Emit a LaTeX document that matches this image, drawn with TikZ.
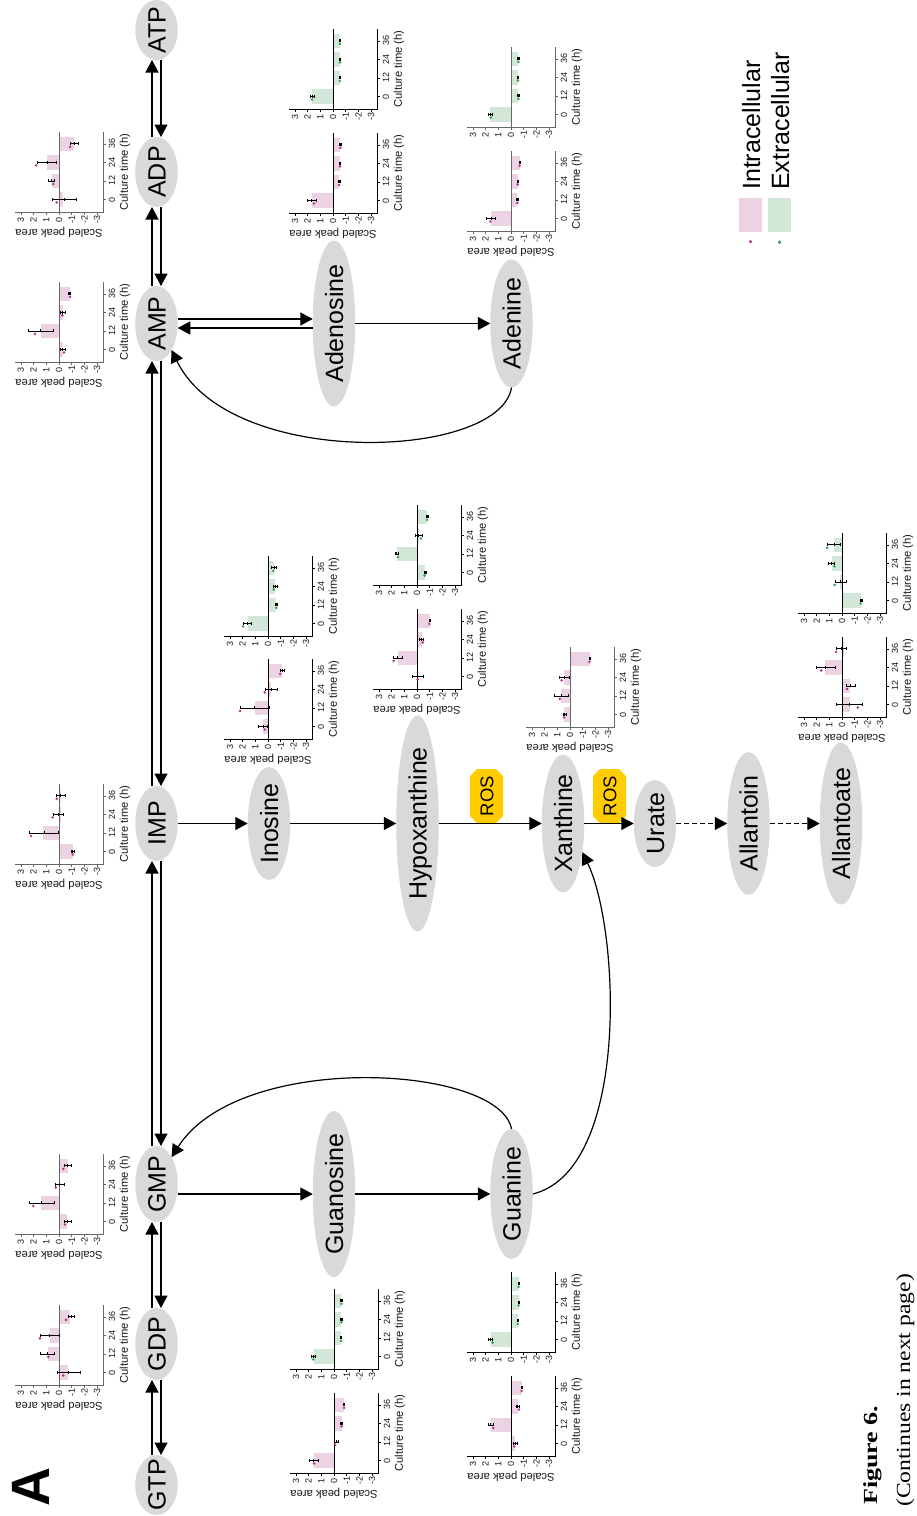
\documentclass[tikz,border=0pt]{standalone}
\usepackage{fontspec}
\setmainfont{Liberation Sans}
\newfontfamily\capfont[FakeStretch=1.18]{Liberation Serif}
\newfontfamily\capbold[FakeStretch=1.3]{Liberation Serif Bold}
\usetikzlibrary{arrows.meta,positioning,calc,shapes.geometric}
\definecolor{NodeGray}{HTML}{D9D9D9}
\definecolor{RosAmber}{HTML}{FFCC00}
\definecolor{BarPink}{HTML}{EBD3E3}
\definecolor{BarGreen}{HTML}{D3E7D8}
\definecolor{DotPink}{HTML}{B5308A}
\definecolor{DotGreen}{HTML}{2E9E4F}
\definecolor{AxisGray}{HTML}{666666}
\newcommand{\ptfont}[1]{\fontsize{#1}{#1}\selectfont}
\tikzset{
  metab/.style n args={2}{ellipse,fill=NodeGray,inner sep=0pt,outer sep=0pt,
                    minimum width=42.5pt,minimum height=#1,
                    label={[mlabel]center:#2}},
  mlabel/.style={rotate=90,inner sep=0pt,font=\ptfont{25},text height=18pt,text depth=0pt},
  ros/.style={rotate=90,inner sep=0pt,font=\ptfont{18.5},text height=13.5pt,text depth=0pt},
  arr/.style={-{Triangle[length=12.5pt,width=13pt]},line width=1.4pt,black},
  darr/.style={arr,dash pattern=on 5pt off 3pt},
  curv/.style={-{Triangle[length=12.5pt,width=13pt]},line width=1.2pt,black},
  ticklab/.style={rotate=90,inner sep=0pt,font=\ptfont{9},text=black!90},
  axtitle/.style={inner sep=0pt,font=\ptfont{11.2},text=black!90},
  vtext/.style={rotate=90,anchor=base west,inner sep=0pt},
}
% one small bar chart; X is the zero line, Y the value axis
\newcommand{\peakchart}[6][black]{%
  \begin{scope}[shift={(#3,#4)},name prefix=#2-]
    \foreach \bv/\elo/\ehi/\dv [count=\i from 0] in {#6}{
      \pgfmathsetmacro\ty{-12.5-18.55*\i}
      \fill[#5] (0,\ty-7.3) rectangle ({-12.7*\bv},\ty+7.3);
    }
    \draw[#1,line width=0.8pt] (0,-80) -- (0,0);
    \draw[#1,line width=0.8pt] (-44,0) -- (44,0) -- (44,-80);
    \foreach \val in {3,2,1,0,-1,-2,-3}{
      \draw[#1,line width=0.6pt] ({-12.7*\val},0) -- ({-12.7*\val},2.5);
      \node[ticklab] (v\val) at ({-12.7*\val},7.5) {\val};
    }
    \foreach \tm [count=\i from 0] in {0,12,24,36}{
      \pgfmathsetmacro\ty{-12.5-18.55*\i}
      \draw[#1,line width=0.6pt] (44,\ty) -- (46.5,\ty);
      \node[ticklab] (t\tm) at (53,\ty) {\tm};
    }
    \node[axtitle,rotate=90] (xlab) at (66,-40) {Culture time (h)};
  \end{scope}
}
\newcommand{\peakdata}[4]{%
  \begin{scope}[shift={(#1,#2)}]
    \foreach \bv/\elo/\ehi/\dv [count=\i from 0] in {#4}{
      \pgfmathsetmacro\ty{-12.5-18.55*\i}
      \draw[black,line width=0.9pt] ({-12.7*\elo},\ty) -- ({-12.7*\ehi},\ty);
      \draw[black,line width=0.7pt] ({-12.7*\elo},\ty-1.5) -- ({-12.7*\elo},\ty+1.5);
      \draw[black,line width=0.7pt] ({-12.7*\ehi},\ty-1.5) -- ({-12.7*\ehi},\ty+1.5);
      \draw[black,line width=0.9pt] ({-6.35*(\elo+\ehi)},\ty-1.5) -- ({-6.35*(\elo+\ehi)},\ty+1.5);
      \fill[#3] ({-12.7*\dv},\ty+3) circle (1.4);
    }
  \end{scope}
}
\newcommand{\intrachart}[5][black]{%
  \peakchart[#1]{#2}{#3}{#4}{BarPink}{#5}
  \peakdata{#3}{#4}{DotPink}{#5}
  \node[axtitle,rotate=180] (#2-ylab) at ({#3},{#4+20}) {Scaled peak area};
}
\newcommand{\extrachart}[5][black]{%
  \peakchart[#1]{#2}{#3}{#4}{BarGreen}{#5}
  \peakdata{#3}{#4}{DotGreen}{#5}
}
\newcommand{\rosbadge}[3]{%
  \fill[RosAmber,shift={(#2,#3)}] (-9.5,-27) -- (9.5,-27) -- (16.5,-20) -- (16.5,20)
    -- (9.5,27) -- (-9.5,27) -- (-16.5,20) -- (-16.5,-20) -- cycle;
  \node[ros] (#1) at (#2,#3) {ROS};
}
\begin{document}
\begin{tikzpicture}[x=1pt,y=-1pt]
  \useasboundingbox (0,0) rectangle (917,1516);

  % nucleotides, left column
  \node[metab={75pt}{IMP}] (imp) at (156.5,823.5) {};
  \node[metab={75pt}{AMP},above=425pt of imp] (amp) {};
  \node[metab={70pt}{ADP},above=79pt of amp]  (adp) {};
  \node[metab={60pt}{ATP},above=77pt of adp]  (atp) {};
  \node[metab={76pt}{GMP},below=285pt of imp] (gmp) {};
  \node[metab={72pt}{GDP},below=86pt of gmp]  (gdp) {};
  \node[metab={60pt}{GTP},below=75pt of gdp]  (gtp) {};

  % degradation row
  \node[metab={113pt}{Inosine},right=70pt of imp]       (ino) {};
  \node[metab={216pt}{Hypoxanthine},right=106pt of ino] (hyp) {};
  \node[metab={138pt}{Xanthine},right=103pt of hyp]     (xan) {};
  \node[metab={87pt}{Urate},right=49.5pt of xan]        (ura) {};
  \node[metab={143pt}{Allantoin},right=51pt of ura]     (ali) {};
  \node[metab={162pt}{Allantoate},right=50pt of ali]    (alo) {};
  \node[metab={166pt}{Adenosine},right=135pt of amp]    (ado) {};
  \node[metab={128pt}{Adenine},right=135pt of ado]      (ade) {};
  \node[metab={166pt}{Guanosine},right=135pt of gmp,yshift=-10pt] (guo) {};
  \node[metab={130pt}{Guanine},right=135pt of guo]      (gun) {};

  \rosbadge{rosa}{486.5}{796}
  \rosbadge{rosb}{609.5}{796}

  \draw[arr] ([xshift=-4.5pt]adp.north) -- ([xshift=-4.5pt]atp.south);
  \draw[arr] ([xshift=4.5pt]atp.south)  -- ([xshift=4.5pt]adp.north);
  \draw[arr] ([xshift=-4.5pt]amp.north) -- ([xshift=-4.5pt]adp.south);
  \draw[arr] ([xshift=4.5pt]adp.south)  -- ([xshift=4.5pt]amp.north);
  \draw[arr] ([xshift=-4.5pt]imp.north) -- ([xshift=-4.5pt]amp.south);
  \draw[arr] ([xshift=4.5pt]amp.south)  -- ([xshift=4.5pt]imp.north);
  \draw[arr] ([xshift=-4.5pt]gmp.north) -- ([xshift=-4.5pt]imp.south);
  \draw[arr] ([xshift=4.5pt]imp.south)  -- ([xshift=4.5pt]gmp.north);
  \draw[arr] ([xshift=-4.5pt]gdp.north) -- ([xshift=-4.5pt]gmp.south);
  \draw[arr] ([xshift=4.5pt]gmp.south)  -- ([xshift=4.5pt]gdp.north);
  \draw[arr] ([xshift=-4.5pt]gtp.north) -- ([xshift=-4.5pt]gdp.south);
  \draw[arr] ([xshift=4.5pt]gdp.south)  -- ([xshift=4.5pt]gtp.north);

  \draw[arr] (imp) -- (ino);
  \draw[arr] (ino) -- (hyp);
  \draw[arr] (hyp) -- (xan);
  \draw[arr] (xan) -- (ura);
  \draw[darr] (ura) -- (ali);
  \draw[darr] (ali) -- (alo);
  \draw[arr] ([yshift=4.5pt]amp.east) -- ([yshift=4.5pt]ado.west);
  \draw[arr] ([yshift=-4.5pt]ado.west) -- ([yshift=-4.5pt]amp.east);
  \draw[arr] (ado) -- (ade);
  \draw[arr] (gmp.east |- guo.west) -- (guo.west);
  \draw[arr] (guo) -- (gun);
  \draw[curv] (ade.south) .. controls (500,460) and (230,470) .. (amp.south east);
  \draw[curv] (gun.north) .. controls (500,1065) and (240,1050) .. (gmp.north east);
  \draw[curv] (gun.east) .. controls (630,1170) and (620,930) .. (xan.-56);

  % charts beside the column
  \intrachart[AxisGray]{adpc}{59}{212}{-0.3/0.55/-1.4/0.18,0.58/0.84/0.4/0.45,0.92/1.7/0.18/1.8,-1.18/-0.87/-1.5/-0.87}
  \intrachart[AxisGray]{ampc}{59}{362}{-0.29/-0.08/-0.53/-0.4,1.45/2.42/0.45/1.9,-0.29/-0.08/-0.53/-0.26,-0.87/-0.71/-0.92/-0.87}
  \intrachart[AxisGray]{impc}{59}{864}{-1.08/-0.95/-1.2/-1.08,1.24/2.3/0.05/2.2,-0.16/0.45/-0.34/0.5,-0.16/0.24/-0.47/0.18}
  \intrachart[AxisGray]{gmpc}{59}{1234}{-0.6/-0.42/-0.95/-0.47,1.42/2.34/0.37/2.03,0/0.32/-0.4/0.26,-0.68/-0.4/-1/-0.34}
  \intrachart[AxisGray]{gdpc}{59}{1385}{-0.74/0.13/-1.66/-0.34,0.9/1.5/0.37/0.84,0.71/1.45/0/1.5,-0.87/-0.74/-1.18/-0.55}

  % charts of the bases
  \extrachart{adog}{333}{109}{1.66/1.8/1.5/1.66,-0.53/-0.47/-0.58/-0.53,-0.55/-0.5/-0.6/-0.55,-0.55/-0.5/-0.6/-0.55}
  \intrachart{adop}{333}{213}{1.63/2.03/1.3/1.5,-0.47/-0.42/-0.55/-0.47,-0.55/-0.5/-0.6/-0.55,-0.58/-0.53/-0.63/-0.58}
  \extrachart[AxisGray]{adeg}{511}{127}{1.63/1.76/1.47/1.58,-0.58/-0.53/-0.63/-0.58,-0.55/-0.5/-0.6/-0.55,-0.58/-0.53/-0.63/-0.58}
  \intrachart[AxisGray]{adep}{511}{231}{1.58/1.95/1.2/1.63,-0.5/-0.42/-0.6/-0.5,-0.53/-0.47/-0.58/-0.53,-0.68/-0.63/-0.72/-0.68}
  \extrachart{inog}{268}{636}{1.6/1.97/1.3/1.97,-0.6/-0.55/-0.76/-0.66,-0.53/-0.4/-0.7/-0.45,-0.47/-0.3/-0.66/-0.42}
  \intrachart{inop}{268}{739}{0.4/0.74/0.05/0.26,1.05/2.2/-0.08/2.2,-0.2/0.18/-0.74/0.26,-1.1/-0.95/-1.3/-0.95}
  \extrachart{hypg}{417}{585}{-0.66/-0.6/-0.7/-0.6,1.58/1.7/1.5/1.5,-0.13/0.13/-0.4/-0.3,-0.8/-0.74/-0.87/-0.8}
  \intrachart{hypp}{417}{689}{-0.05/0.34/-0.47/-0.05,1.5/1.84/1.18/1.84,-0.4/-0.18/-0.53/-0.45,-1/-0.95/-1.08/-0.97}
  \intrachart[AxisGray]{xanc}{570}{727}{0.45/0.53/0.32/0.47,0.7/1.26/0.13/0.8,0.45/0.8/0.05/0.66,-1.58/-1.53/-1.63/-1.53}
  \extrachart{alog}{842}{613}{-1.53/-1.45/-1.58/-1.47,0.13/0.53/-0.32/0.58,0.8/1.05/0.6/0.6,0.66/1.13/0.13/1.18}
  \intrachart{alop}{842}{717}{-0.6/0.45/-1.63/-1.24,-0.66/-0.34/-1.05/-0.4,1.3/2.03/0.53/1.63,-0.13/0.45/-0.32/0.47}
  \extrachart{guog}{334}{1369}{1.6/1.76/1.47/1.63,-0.55/-0.5/-0.6/-0.55,-0.58/-0.53/-0.63/-0.58,-0.58/-0.53/-0.63/-0.58}
  \intrachart{guop}{334}{1473}{1.6/1.92/1.26/1.58,-0.05/0/-0.37/-0.1,-0.6/-0.53/-0.66/-0.6,-0.8/-0.76/-0.85/-0.8}
  \extrachart{gung}{511}{1352}{1.6/1.79/1.45/1.45,-0.53/-0.47/-0.58/-0.53,-0.6/-0.55/-0.66/-0.6,-0.6/-0.55/-0.66/-0.6}
  \intrachart{gunp}{511}{1456}{-0.32/-0.18/-0.5/-0.26,1.58/1.79/1.37/1.4,-0.53/-0.42/-0.63/-0.63,-0.84/-0.78/-0.9/-0.84}

  % legend
  \node[fill=BarPink,inner sep=0pt,minimum width=23pt,minimum height=34pt] (keyintra) at (750.5,215) {};
  \node[fill=BarGreen,inner sep=0pt,minimum width=23pt,minimum height=34pt] (keyextra) at (779.5,215) {};
  \node[circle,fill=DotPink,inner sep=0pt,minimum size=3.4pt,below=7.5pt of keyintra] (dotintra) {};
  \node[circle,fill=DotGreen,inner sep=0pt,minimum size=3.6pt,below=8pt of keyextra] (dotextra) {};
  \node[vtext,font=\ptfont{25}] (txtintra) at (760,190) {Intracellular};
  \node[vtext,font=\ptfont{25}] (txtextra) at (789,190) {Extracellular};

  \node[rotate=90,anchor=base,inner sep=0pt,font=\ptfont{54}\bfseries] (panel) at (49,1487) {A};
  \node[vtext,font=\ptfont{20}\capbold] (figno) at (877,1505) {Figure 6.};
  \node[vtext,font=\ptfont{20}\capfont] (figcont) at (910,1507) {(Continues in next page)};
\end{tikzpicture}
\end{document}
